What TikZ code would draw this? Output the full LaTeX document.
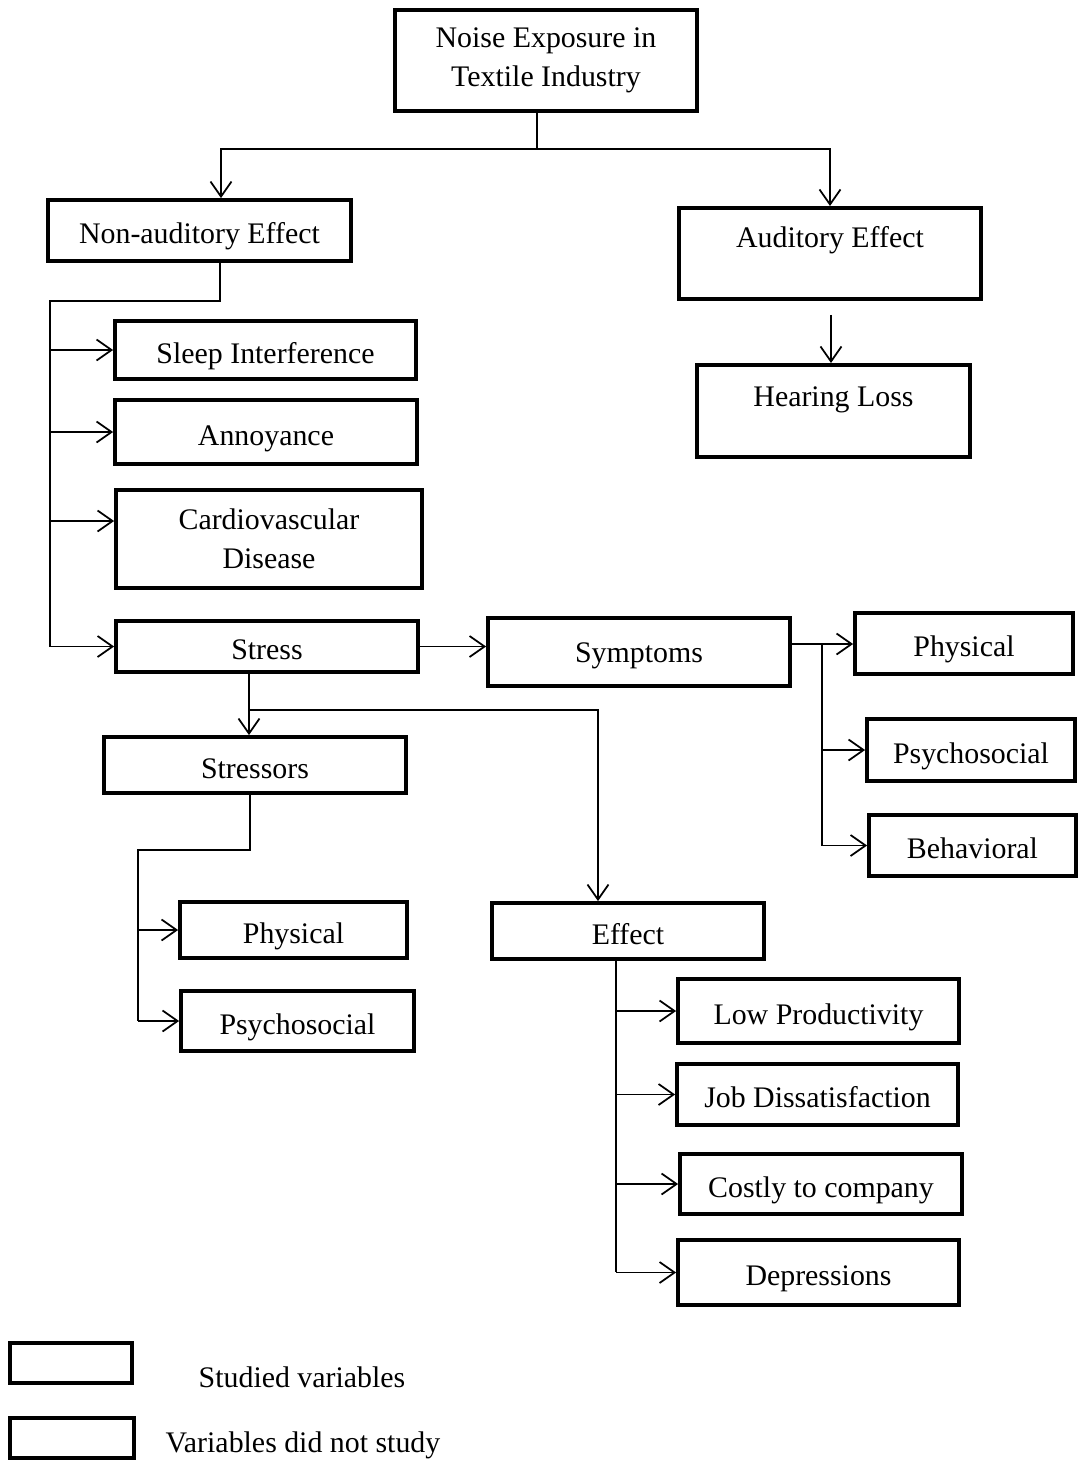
\documentclass[tikz,border=0pt]{standalone}
\usepackage{fontspec}
\setmainfont{Liberation Serif}
\usetikzlibrary{arrows.meta, positioning}

\begin{document}
\begin{tikzpicture}[
      x=0.02cm, y=-0.02cm,
      font=\fontsize{17}{22}\selectfont,
      box/.style={draw, line width=2.2pt, align=center, inner sep=0pt,
        text height=0.62cm, text depth=0.1cm},
      arr/.style={-{Straight Barb[length=3mm, width=4.2mm]}, line width=1pt},
      conn/.style={line width=1pt}
    ]
    \useasboundingbox (0,0) rectangle (1080,1461);

    \node[box, text height=, text depth=, minimum width=6.04cm, minimum height=2.02cm] (noise) at (546,60.5) {Noise Exposure in\\Textile Industry};

    \node[box, minimum width=6.06cm, minimum height=1.22cm] (nonaud) at (199.5,230.5) {Non-auditory Effect};
    \node[box, minimum width=6.04cm, text height=0.8cm, text depth=1.02cm, anchor=north] (aud) at (830,206) {Auditory Effect};
    \node[box, minimum width=5.46cm, text height=0.84cm, text depth=1.0cm, anchor=north] (hear) at (833.5,363) {Hearing Loss};

    \node[box, minimum width=6.02cm, minimum height=1.16cm] (sleep) at (265.5,350) {Sleep Interference};
    \node[box, minimum width=6.04cm, minimum height=1.28cm] (annoy) at (266,432) {Annoyance};
    \node[box, text height=, text depth=, minimum width=6.12cm, minimum height=1.96cm] (cardio) at (269,539) {Cardiovascular\\Disease};
    \node[box, minimum width=6.04cm, minimum height=1.02cm] (stress) at (267,646.5) {Stress};

    \node[box, text height=0.5cm, minimum width=6.04cm, minimum height=1.36cm] (sympt) at (639,652) {Symptoms};
    \node[box, minimum width=4.36cm, minimum height=1.22cm] (physA) at (964,643.5) {Physical};
    \node[box, minimum width=4.16cm, minimum height=1.24cm] (psychA) at (971,750) {Psychosocial};
    \node[box, minimum width=4.14cm, minimum height=1.22cm] (behav) at (972.5,845.5) {Behavioral};

    \node[box, minimum width=6.04cm, minimum height=1.12cm] (stressors) at (255,765) {Stressors};
    \node[box, minimum width=4.54cm, minimum height=1.12cm] (physB) at (293.5,930) {Physical};
    \node[box, minimum width=4.66cm, minimum height=1.2cm] (psychB) at (297.5,1021) {Psychosocial};

    \node[box, minimum width=5.44cm, minimum height=1.12cm] (effect) at (628,931) {Effect};
    \node[box, minimum width=5.62cm, minimum height=1.28cm] (lowp) at (818.5,1011) {Low Productivity};
    \node[box, minimum width=5.62cm, minimum height=1.22cm] (job) at (817.5,1094.5) {Job Dissatisfaction};
    \node[box, minimum width=5.64cm, minimum height=1.2cm] (costly) at (821,1184) {Costly to company};
    \node[box, minimum width=5.62cm, minimum height=1.3cm] (depr) at (818.5,1272.5) {Depressions};

    % legend
    \node[box, minimum width=2.44cm, minimum height=0.8cm] (legA) at (71,1363) {};
    \node[box, line width=2.6pt, minimum width=2.48cm, minimum height=0.8cm] (legB) at (72,1438) {};
    \node (legAtxt) at (302,1377) {Studied variables};
    \node (legBtxt) at (303,1445) {Variables did not study};

    % top split
    \coordinate (topj) at (537,149);
    \draw[conn] (noise.south -| topj) -- (topj);
    \draw[arr] (topj) -| (nonaud.north -| 221,0);
    \draw[arr] (topj) -| (aud.north);
    \draw[arr] ([yshift=-8pt]aud.south -| 831,0) -- (hear.north -| 831,0);

    % non-auditory trunk
    \coordinate (nt) at (50,301);
    \draw[conn] (nonaud.south -| 220,0) |- (nt) -- (nt |- stress.west);
    \foreach \b in {sleep, annoy, stress}
      \draw[arr] (nt |- \b.west) -- (\b.west);
    \draw[arr] (nt |- 0,521) -- (cardio.west |- 0,521);

    % stress branches
    \draw[arr] (stress.east) -- (sympt.west |- stress.east);
    \coordinate (sj) at (822,644);
    \draw[arr] (sympt.east |- sj) -- (physA.west |- sj);
    \draw[conn] (sj) -- (sj |- behav.west);
    \foreach \b in {psychA, behav}
      \draw[arr] (sj |- \b.west) -- (\b.west);

    \coordinate (st) at (249,710);
    \draw[arr] (stress.south -| st) -- (stressors.north -| st);
    \draw[arr] (st) -| (effect.north -| 598,0);

    % stressors
    \coordinate (rt) at (138,850);
    \draw[conn] (stressors.south -| 250,0) |- (rt) -- (rt |- psychB.west);
    \foreach \b in {physB, psychB}
      \draw[arr] (rt |- \b.west) -- (\b.west);

    % effect
    \coordinate (et) at (616,1272);
    \draw[conn] (effect.south -| et) -- (et);
    \foreach \b in {lowp, job, costly, depr}
      \draw[arr] (et |- \b.west) -- (\b.west);
  \end{tikzpicture}
\end{document}
